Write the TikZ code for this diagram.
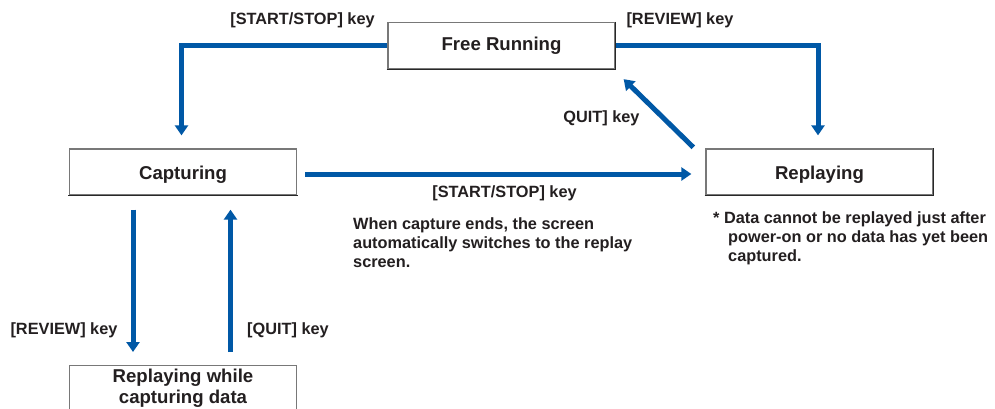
\documentclass[tikz,border=0pt]{standalone}
\usepackage{fontspec}
\setmainfont{Liberation Sans}
\usetikzlibrary{arrows.meta}
\definecolor{arr}{RGB}{0,88,166}
\definecolor{txt}{RGB}{35,31,32}
\definecolor{bord}{RGB}{120,120,120}
\definecolor{bordd}{RGB}{40,40,40}
\begin{document}
\begin{tikzpicture}[x=1pt,y=-1pt,
  box/.style={draw=bord, line width=1.3pt, minimum width=227pt, minimum height=46pt, inner sep=0pt,
    font=\fontsize{18.6}{21}\selectfont\bfseries, text=txt},
  lowtext/.style={text height=14.6pt, text depth=0pt},
  dark edge/.style={draw=bordd, line width=1.3pt},
  lbl/.style={font=\fontsize{16.3}{19}\selectfont\bfseries, text=txt, inner sep=0pt},
  conn/.style={draw=arr, line width=5pt, -{Triangle[width=13pt,length=10pt]}}]
\useasboundingbox (0,0) rectangle (995,408);
\clip (0,0) rectangle (995,408);
\fill[white] (0,0) rectangle (995,408);
\node[box] (fr) at (501.5,45.5) {Free Running};
\node[box, lowtext] (cap) at (183,172) {Capturing};
\node[box, lowtext] (rep) at (819.5,172) {Replaying};
\node[box, align=center, anchor=north] (rwc) at (183,365) {Replaying while\\capturing data};
\foreach \n in {fr,cap,rep}
  \draw[dark edge] ([xshift=-0.65pt]\n.south west) -- ([xshift=0.65pt]\n.south east);
\draw[dark edge] (fr.north east) -- (fr.south east);
\draw[dark edge] (rep.north east) -- (rep.south east);
% connectors
\draw[conn] (fr.west) -| ([xshift=-1.5pt,yshift=13pt]cap.north);
\draw[conn] (fr.east) -| ([xshift=-1.5pt,yshift=13pt]rep.north);
\draw[conn] ([shift={(8pt,-2pt)}]cap.east) -- ([shift={(-14pt,-2pt)}]rep.west);
\draw[conn] ([shift={(-12pt,1pt)}]rep.north west) -- ([shift={(8pt,-10pt)}]fr.south east);
\draw[conn] ([shift={(-50pt,-14pt)}]cap.south) -- ([shift={(-50pt,13pt)}]rwc.north);
\draw[conn] ([shift={(47.5pt,13pt)}]rwc.north) -- ([shift={(47.5pt,-14pt)}]cap.south);
% labels
\node[lbl] (l1) at (302.5,20) {[START/STOP] key};
\node[lbl] (l2) at (680,20) {[REVIEW] key};
\node[lbl] (l3) at (601.5,118) {QUIT] key};
\node[lbl] (l4) at (504.5,193) {[START/STOP] key};
\node[lbl, anchor=north west, align=left] (n1) at (353,217) {When capture ends, the screen\\automatically switches to the replay\\screen.};
\node[lbl, anchor=north west, align=left] (n2) at (713,211) {* Data cannot be replayed just after\\\hspace*{15pt}power-on or no data has yet been\\\hspace*{15pt}captured.};
\node[lbl] (l5) at (64,330) {[REVIEW] key};
\node[lbl] (l6) at (288,330) {[QUIT] key};
\end{tikzpicture}
\end{document}
